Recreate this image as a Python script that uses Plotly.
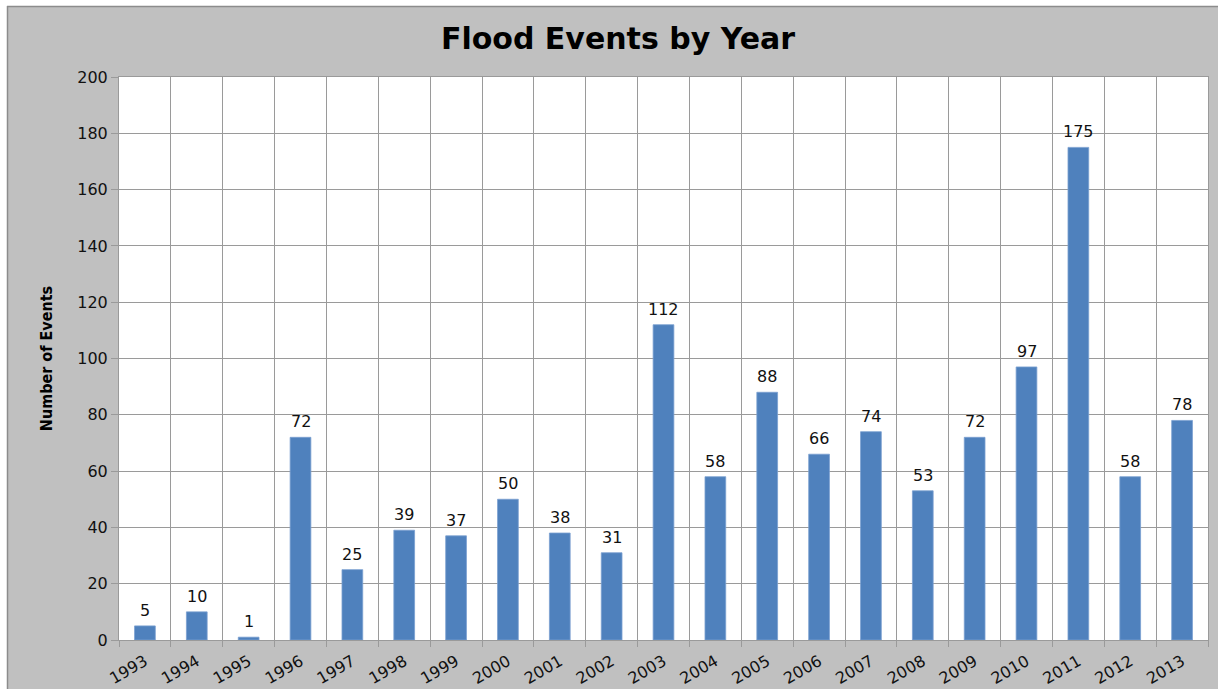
import plotly.graph_objects as go

years = [str(y) for y in range(1993, 2014)]
events = [5, 10, 1, 72, 25, 39, 37, 50, 38, 31, 112, 58, 88, 66, 74, 53, 72, 97, 175, 58, 78]
y_ticks = list(range(0, 201, 20))

W, H = 1218, 689
L, R, T, B = 119, 10, 77, 49

fig = go.Figure(go.Bar(
    x=years, y=events, width=0.4,
    marker=dict(color="#4f81bd", line=dict(color="#7a9fd0", width=0.8)),
    cliponaxis=False,
))

# data labels: category index positions on the category axis
for i, v in enumerate(events):
    fig.add_annotation(x=i, y=v, text=str(v), showarrow=False, yanchor="bottom", yshift=4,
                       font=dict(family="DejaVu Sans", size=16, color="#111111"))

grid = "#9a9a9a"
fig.update_layout(
    width=W, height=H,
    margin=dict(l=L, r=R, t=T, b=B, autoexpand=False),
    paper_bgcolor="#c0c0c0", plot_bgcolor="white",
    showlegend=False,
    title=dict(text="<b>Flood Events by Year</b>", x=618 / W, xanchor="center",
               y=1 - 38 / H, yanchor="middle",
               font=dict(family="DejaVu Sans", size=30, color="black")),
    xaxis=dict(type="category", categoryorder="array", categoryarray=years,
               range=[-0.5, len(years) - 0.5], autorange=False, automargin=False,
               tickson="boundaries", showgrid=True, gridcolor=grid,
               gridwidth=1, ticks="outside", ticklen=6, tickcolor=grid,
               tickangle=-30, ticklabelstandoff=5,
               tickfont=dict(family="DejaVu Sans", size=16, color="#111111"),
               showline=True, linecolor=grid, mirror=True),
    yaxis=dict(range=[0, 200], tickvals=y_ticks, showgrid=True, gridcolor=grid,
               automargin=False,
               ticks="outside", ticklen=7, tickcolor=grid,
               tickfont=dict(family="DejaVu Sans", size=16, color="#111111"),
               title=dict(text="<b>Number of Events</b>", standoff=20,
                          font=dict(family="DejaVu Sans Condensed", size=16, color="black")),
               showline=True, linecolor=grid, mirror=True, zeroline=False),
    bargap=0.6,
)

# white strips at top and left, plus darker border of the chart area
pw, ph = W - L - R, H - T - B
def px(x):
    return (x - L) / pw
def py(y):
    return 1 - (y - T) / ph
fig.add_shape(type="rect", xref="paper", yref="paper", x0=px(0), x1=px(W), y0=py(0), y1=py(6),
              fillcolor="white", line=dict(width=0), layer="below")
fig.add_shape(type="rect", xref="paper", yref="paper", x0=px(0), x1=px(7), y0=py(0), y1=py(H),
              fillcolor="white", line=dict(width=0), layer="below")
fig.add_shape(type="line", xref="paper", yref="paper", x0=px(7), x1=px(W), y0=py(6.5), y1=py(6.5),
              line=dict(color="#8c8c8c", width=1.5))
fig.add_shape(type="line", xref="paper", yref="paper", x0=px(7.5), x1=px(7.5), y0=py(6), y1=py(H),
              line=dict(color="#8c8c8c", width=1.5))

fig.write_html("out.html", config={"displayModeBar": False},
               post_script="document.body.style.margin='0';document.body.style.overflow='hidden';")
